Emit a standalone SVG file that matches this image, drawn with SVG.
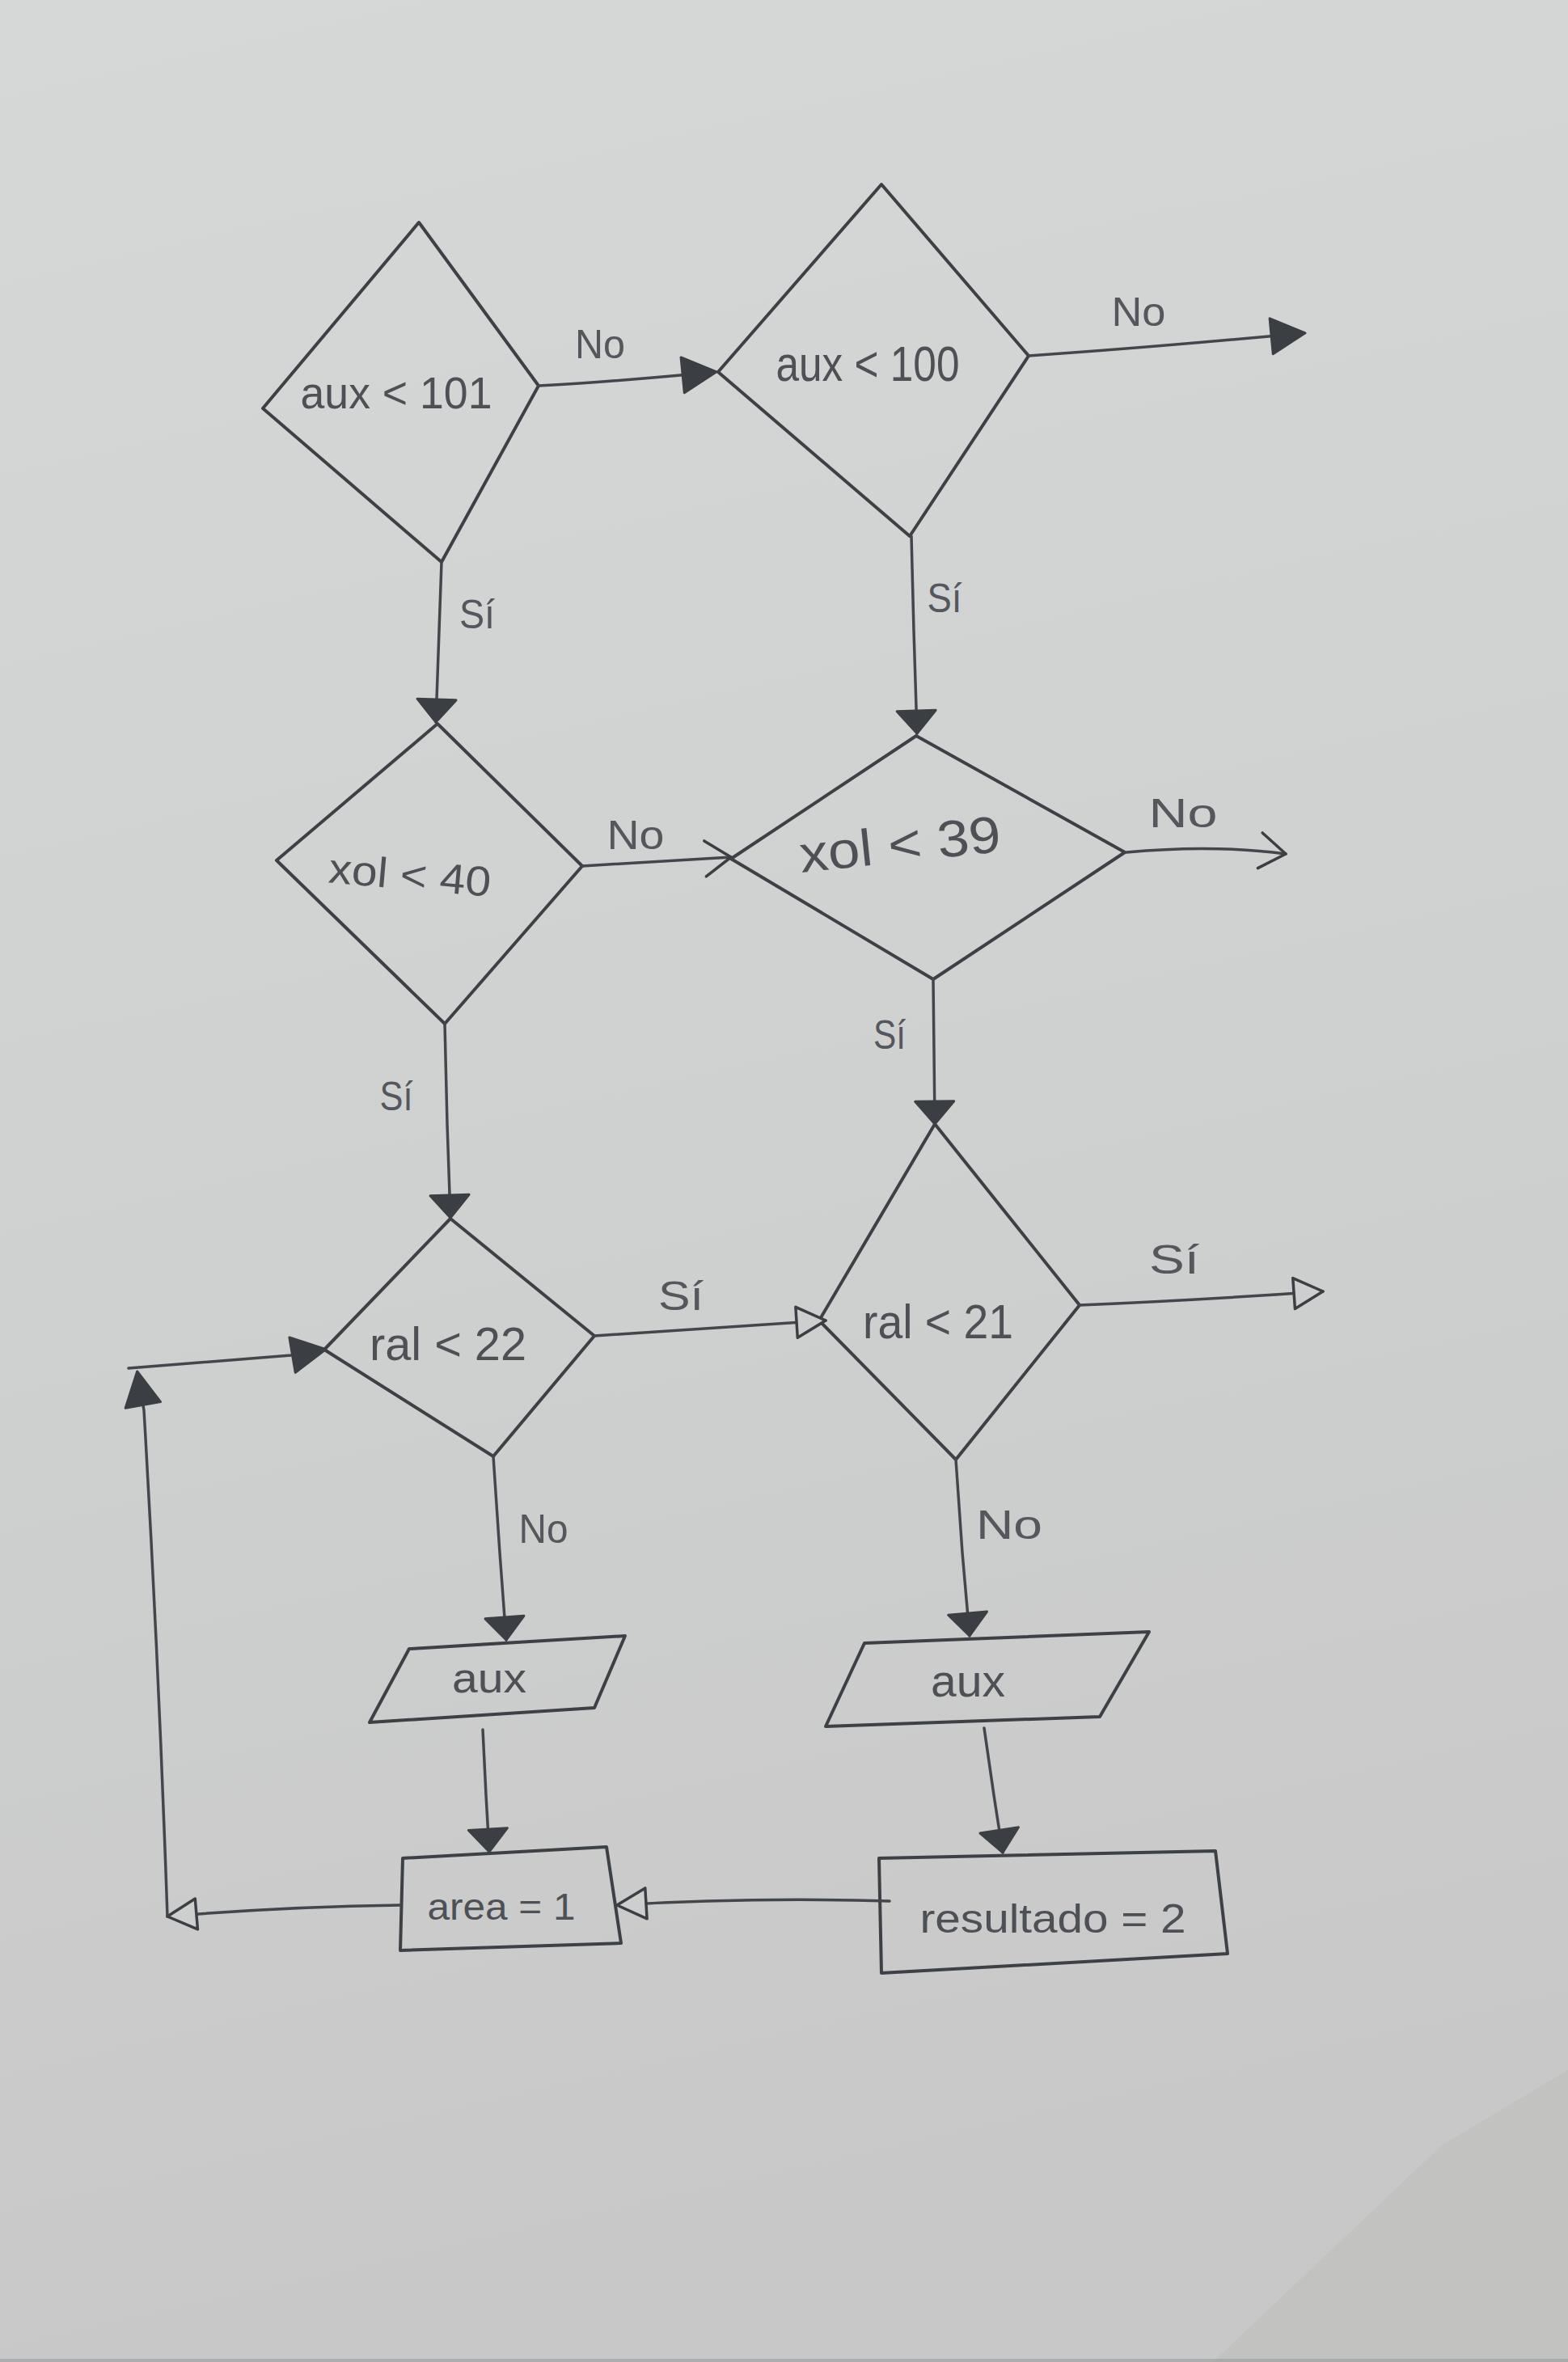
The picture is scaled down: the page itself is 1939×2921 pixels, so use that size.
<svg xmlns="http://www.w3.org/2000/svg" width="1939" height="2921" viewBox="0 0 1939 2921">
  <defs>
    <linearGradient id="paper" x1="0" y1="0" x2="0.15" y2="1">
      <stop offset="0" stop-color="#d6d8d8"/>
      <stop offset="0.55" stop-color="#cfd1d0"/>
      <stop offset="1" stop-color="#c7c8c7"/>
    </linearGradient>
    <!-- filled head -->
    <marker id="head-fill" markerUnits="userSpaceOnUse" markerWidth="48" markerHeight="50" refX="42" refY="24" orient="auto" overflow="visible">
      <path d="M2,2 L44,24 L2,46 Z" fill="#3b3e43" stroke="#3b3e43" stroke-width="3" stroke-linejoin="round"/>
    </marker>
    <!-- flatter filled head used on the vertical runs -->
    <marker id="head-flat" markerUnits="userSpaceOnUse" markerWidth="34" markerHeight="56" refX="30" refY="26" orient="auto" overflow="visible">
      <path d="M2,2 L30,26 L2,50 Z" fill="#3b3e43" stroke="#3b3e43" stroke-width="3" stroke-linejoin="round"/>
    </marker>
    <!-- hollow head -->
    <marker id="head-open" markerUnits="userSpaceOnUse" markerWidth="44" markerHeight="46" refX="38" refY="21" orient="auto" overflow="visible">
      <path d="M2,2 L38,21 L2,40 Z" fill="#cdcfce" stroke="#3b3e43" stroke-width="3.5" stroke-linejoin="round"/>
    </marker>
    <!-- chevron head -->
    <marker id="head-chev" markerUnits="userSpaceOnUse" markerWidth="40" markerHeight="48" refX="34" refY="22" orient="auto" overflow="visible">
      <path d="M2,0 L34,22 L2,44" fill="none" stroke="#3b3e43" stroke-width="3.5" stroke-linecap="round" stroke-linejoin="round"/>
    </marker>
  </defs>
  <style>
    .shape { fill: none; stroke: #3d4045; stroke-width: 4; stroke-linejoin: round; stroke-linecap: round; }
    .wire { fill: none; stroke: #43464b; stroke-width: 3.5; stroke-linecap: round; stroke-linejoin: round; }
    .txt { font-family: "Liberation Sans", Arial, sans-serif; fill: #4d5055; text-anchor: middle; }
    .edge { font-family: "Liberation Sans", Arial, sans-serif; fill: #54575c; text-anchor: middle; font-size: 50px; }
  </style>

  <!-- paper -->
  <rect x="0" y="0" width="1939" height="2921" fill="url(#paper)"/>
  <polygon points="1500,2921 1783,2653 1939,2560 1939,2921" fill="#b2b3b0" opacity="0.25"/>
  <rect x="0" y="2917" width="1939" height="4" fill="#7a7c80" opacity="0.35"/>

  <g id="nodes">
    <g id="d-aux101">
      <polygon class="shape" points="518,275 666,477 546,695 325,505"/>
      <text class="txt" x="490" y="505" font-size="56" textLength="237" lengthAdjust="spacingAndGlyphs">aux &lt; 101</text>
    </g>
    <g id="d-aux100">
      <polygon class="shape" points="1090,228 1272,440 1125,663 888,460"/>
      <text class="txt" x="1073" y="471" font-size="62" textLength="227" lengthAdjust="spacingAndGlyphs">aux &lt; 100</text>
    </g>
    <g id="d-xol40">
      <polygon class="shape" points="541,895 720,1071 550,1266 342,1064"/>
      <text class="txt" x="507" y="1100" font-size="52" textLength="201" lengthAdjust="spacingAndGlyphs" transform="rotate(5 507 1082)">xol &lt; 40</text>
    </g>
    <g id="d-xol39">
      <polygon class="shape" points="1133,910 1391,1054 1154,1211 904,1062"/>
      <text class="txt" x="1113" y="1066" font-size="64" textLength="250" lengthAdjust="spacingAndGlyphs" transform="rotate(-6 1113 1045)">xol &lt; 39</text>
    </g>
    <g id="d-ral22">
      <polygon class="shape" points="557,1507 735,1652 610,1801 401,1669"/>
      <text class="txt" x="554" y="1682" font-size="58" textLength="194" lengthAdjust="spacingAndGlyphs">ral &lt; 22</text>
    </g>
    <g id="d-ral21">
      <polygon class="shape" points="1156,1390 1335,1614 1182,1805 1013,1633"/>
      <text class="txt" x="1160" y="1655" font-size="60" textLength="186" lengthAdjust="spacingAndGlyphs">ral &lt; 21</text>
    </g>
    <g id="io-aux-left">
      <polygon class="shape" points="506,2039 773,2023 735,2112 457,2130"/>
      <text class="txt" x="605" y="2093" font-size="52" textLength="92" lengthAdjust="spacingAndGlyphs">aux</text>
    </g>
    <g id="io-aux-right">
      <polygon class="shape" points="1069,2032 1421,2018 1360,2123 1021,2135"/>
      <text class="txt" x="1197" y="2098" font-size="56" textLength="92" lengthAdjust="spacingAndGlyphs">aux</text>
    </g>
    <g id="p-area">
      <polygon class="shape" points="498,2298 750,2284 768,2403 495,2412"/>
      <text class="txt" x="620" y="2374" font-size="46" textLength="183" lengthAdjust="spacingAndGlyphs">area = 1</text>
    </g>
    <g id="p-resultado">
      <polygon class="shape" points="1087,2298 1503,2289 1518,2416 1090,2440"/>
      <text class="txt" x="1302" y="2390" font-size="50" textLength="329" lengthAdjust="spacingAndGlyphs">resultado = 2</text>
    </g>
  </g>

  <g id="connectors">
    <g id="c-aux101-no">
      <path class="wire" d="M666,477 Q760,472 884,460" marker-end="url(#head-fill)"/>
      <text class="edge" x="742" y="443" textLength="62" lengthAdjust="spacingAndGlyphs">No</text>
    </g>
    <g id="c-aux100-no">
      <path class="wire" d="M1272,440 Q1420,430 1612,412" marker-end="url(#head-fill)"/>
      <text class="edge" x="1408" y="403" textLength="67" lengthAdjust="spacingAndGlyphs">No</text>
    </g>
    <g id="c-aux101-si">
      <path class="wire" d="M546,695 L543,780 L539,893" marker-end="url(#head-flat)"/>
      <text class="edge" x="590" y="777" textLength="44" lengthAdjust="spacingAndGlyphs">Sí</text>
    </g>
    <g id="c-aux100-si">
      <path class="wire" d="M1127,663 L1130,780 L1134,907" marker-end="url(#head-flat)"/>
      <text class="edge" x="1168" y="757" textLength="43" lengthAdjust="spacingAndGlyphs">Sí</text>
    </g>
    <g id="c-xol40-no">
      <path class="wire" d="M720,1071 Q800,1066 904,1060" marker-end="url(#head-chev)"/>
      <text class="edge" x="786" y="1050" textLength="71" lengthAdjust="spacingAndGlyphs">No</text>
    </g>
    <g id="c-xol39-no">
      <path class="wire" d="M1393,1054 Q1500,1044 1590,1056" marker-end="url(#head-chev)"/>
      <text class="edge" x="1463" y="1023" textLength="85" lengthAdjust="spacingAndGlyphs">No</text>
    </g>
    <g id="c-xol40-si">
      <path class="wire" d="M550,1266 L553,1390 L557,1506" marker-end="url(#head-flat)"/>
      <text class="edge" x="490" y="1373" font-size="44" textLength="41" lengthAdjust="spacingAndGlyphs">Sí</text>
    </g>
    <g id="c-xol39-si">
      <path class="wire" d="M1154,1211 L1155,1300 L1156,1390" marker-end="url(#head-flat)"/>
      <text class="edge" x="1100" y="1297" textLength="40" lengthAdjust="spacingAndGlyphs">Sí</text>
    </g>
    <g id="c-ral22-si">
      <path class="wire" d="M735,1652 Q880,1642 1021,1633" marker-end="url(#head-open)"/>
      <text class="edge" x="842" y="1620" textLength="56" lengthAdjust="spacingAndGlyphs">Sí</text>
    </g>
    <g id="c-ral21-si">
      <path class="wire" d="M1335,1614 Q1480,1608 1636,1597" marker-end="url(#head-open)"/>
      <text class="edge" x="1452" y="1575" font-size="58" textLength="62" lengthAdjust="spacingAndGlyphs">Sí</text>
    </g>
    <g id="c-ral22-no">
      <path class="wire" d="M610,1801 L618,1920 L626,2028" marker-end="url(#head-flat)"/>
      <text class="edge" x="672" y="1908" textLength="61" lengthAdjust="spacingAndGlyphs">No</text>
    </g>
    <g id="c-ral21-no">
      <path class="wire" d="M1182,1805 L1190,1920 L1199,2023" marker-end="url(#head-flat)"/>
      <text class="edge" x="1248" y="1903" textLength="82" lengthAdjust="spacingAndGlyphs">No</text>
    </g>
    <g id="c-aux-area">
      <path class="wire" d="M597,2139 L601,2220 L605,2290" marker-end="url(#head-flat)"/>
    </g>
    <g id="c-aux-resultado">
      <path class="wire" d="M1217,2137 L1229,2220 L1240,2291" marker-end="url(#head-flat)"/>
    </g>
    <g id="c-resultado-area">
      <path class="wire" d="M1100,2351 Q930,2346 763,2356" marker-end="url(#head-open)"/>
    </g>
    <g id="c-area-loop">
      <path class="wire" d="M495,2356 Q350,2358 207,2370" marker-end="url(#head-open)"/>
      <path class="wire" d="M207,2370 Q196,2050 178,1744 L170,1698" marker-end="url(#head-fill)"/>
      <path class="wire" d="M159,1692 L360,1676 L401,1669" marker-end="url(#head-fill)"/>
    </g>
  </g>
</svg>
